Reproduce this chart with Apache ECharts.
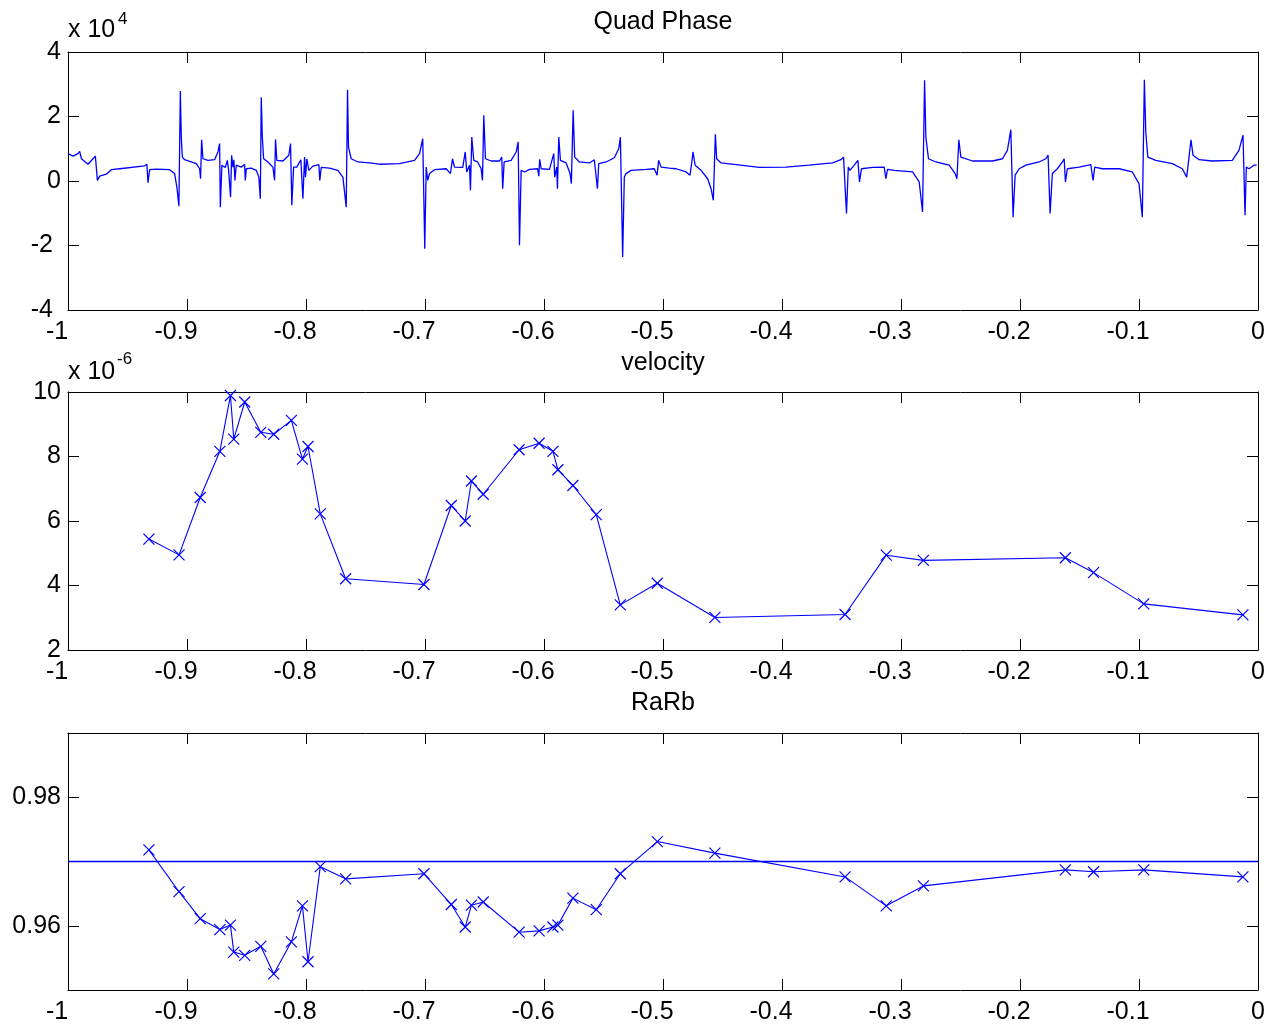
<!DOCTYPE html>
<html>
<head>
<meta charset="utf-8">
<script src="https://cdn.jsdelivr.net/npm/echarts@6/dist/echarts.min.js"></script>
<style>
html,body{margin:0;padding:0;background:#fff;}
#chart{width:1270px;height:1025px;}
</style>
</head>
<body>
<div id="chart"></div>
<script>
// ---------- DATA ----------
// Quad Phase (values in units of 1e4)
const qpX = [-1.0000,-0.9958,-0.9916,-0.9902,-0.9887,-0.9832,-0.9790,-0.9770,-0.9753,-0.9734,-0.9678,-0.9636,-0.9566,-0.9356,-0.9337,-0.9328,-0.9314,-0.9258,-0.9146,-0.9104,-0.9085,-0.9068,-0.9056,-0.9048,-0.9039,-0.9020,-0.8978,-0.8922,-0.8894,-0.8886,-0.8877,-0.8866,-0.8824,-0.8768,-0.8740,-0.8726,-0.8720,-0.8707,-0.8678,-0.8661,-0.8650,-0.8634,-0.8625,-0.8614,-0.8606,-0.8597,-0.8586,-0.8544,-0.8516,-0.8510,-0.8502,-0.8460,-0.8418,-0.8396,-0.8384,-0.8376,-0.8367,-0.8356,-0.8320,-0.8278,-0.8264,-0.8256,-0.8245,-0.8194,-0.8144,-0.8130,-0.8119,-0.8104,-0.8077,-0.8043,-0.8026,-0.8012,-0.8004,-0.7993,-0.7976,-0.7942,-0.7892,-0.7884,-0.7872,-0.7802,-0.7732,-0.7690,-0.7662,-0.7651,-0.7643,-0.7620,-0.7564,-0.7466,-0.7382,-0.7214,-0.7088,-0.7046,-0.7019,-0.7002,-0.6990,-0.6977,-0.6962,-0.6920,-0.6822,-0.6786,-0.6769,-0.6752,-0.6683,-0.6662,-0.6649,-0.6626,-0.6618,-0.6607,-0.6590,-0.6557,-0.6528,-0.6517,-0.6506,-0.6492,-0.6444,-0.6374,-0.6355,-0.6347,-0.6335,-0.6276,-0.6234,-0.6217,-0.6206,-0.6192,-0.6164,-0.6122,-0.6053,-0.6044,-0.6036,-0.6024,-0.5954,-0.5918,-0.5910,-0.5893,-0.5887,-0.5876,-0.5862,-0.5814,-0.5781,-0.5770,-0.5755,-0.5742,-0.5702,-0.5619,-0.5577,-0.5562,-0.5551,-0.5540,-0.5478,-0.5409,-0.5372,-0.5358,-0.5339,-0.5325,-0.5311,-0.5268,-0.5142,-0.5073,-0.5050,-0.5036,-0.5016,-0.4947,-0.4890,-0.4806,-0.4773,-0.4756,-0.4748,-0.4730,-0.4680,-0.4625,-0.4596,-0.4577,-0.4560,-0.4549,-0.4512,-0.4386,-0.4191,-0.3967,-0.3771,-0.3575,-0.3505,-0.3483,-0.3458,-0.3443,-0.3429,-0.3393,-0.3362,-0.3349,-0.3332,-0.3239,-0.3141,-0.3127,-0.3113,-0.3057,-0.2903,-0.2847,-0.2819,-0.2802,-0.2791,-0.2769,-0.2707,-0.2595,-0.2545,-0.2530,-0.2514,-0.2497,-0.2484,-0.2399,-0.2231,-0.2147,-0.2106,-0.2077,-0.2058,-0.2041,-0.2007,-0.1951,-0.1839,-0.1783,-0.1764,-0.1747,-0.1728,-0.1686,-0.1644,-0.1629,-0.1618,-0.1602,-0.1503,-0.1405,-0.1386,-0.1372,-0.1308,-0.1167,-0.1056,-0.1000,-0.0972,-0.0955,-0.0943,-0.0926,-0.0859,-0.0720,-0.0636,-0.0599,-0.0585,-0.0563,-0.0546,-0.0495,-0.0384,-0.0216,-0.0160,-0.0126,-0.0109,-0.0098,-0.0076,-0.0034,-0.0011];
const qpY = [0.85,0.77,0.85,0.92,0.69,0.52,0.69,0.77,0.02,0.15,0.21,0.35,0.38,0.47,0.52,-0.05,0.35,0.37,0.35,0.23,-0.19,-0.78,2.79,1.36,0.74,0.66,0.61,0.54,0.38,0.07,1.28,0.69,0.64,0.66,0.90,1.16,-0.81,0.49,0.42,0.64,0.33,-0.50,0.80,0.43,0.66,0.02,0.49,0.43,0.51,0.02,0.38,0.40,0.33,0.12,-0.55,2.60,1.36,0.69,0.59,0.43,0.02,1.29,0.64,0.62,0.80,1.16,-0.75,0.43,0.43,0.66,-0.55,0.74,0.12,0.69,0.33,0.46,0.51,0.02,0.42,0.40,0.33,0.12,-0.81,2.83,1.05,0.69,0.59,0.56,0.52,0.54,0.64,0.85,1.31,-2.10,0.43,0.02,0.23,0.35,0.38,0.23,0.69,0.43,0.42,0.90,0.28,0.49,-0.29,1.36,0.64,0.59,0.38,0.02,2.04,0.69,0.62,0.62,0.74,-0.24,0.59,0.64,0.90,1.21,-1.99,0.33,0.28,0.36,0.38,0.15,0.67,0.38,0.36,0.85,0.12,0.43,-0.24,1.36,0.64,0.56,0.23,-0.08,2.19,0.74,0.59,0.56,0.66,0.72,-0.24,0.54,0.59,0.72,1.00,1.36,-2.36,0.12,0.23,0.33,0.36,0.38,0.18,0.64,0.43,0.40,0.38,0.28,0.18,0.64,0.90,0.49,0.33,0.07,-0.24,-0.60,1.45,0.69,0.56,0.51,0.42,0.43,0.49,0.56,0.66,0.74,-1.01,0.43,0.33,0.49,0.64,-0.03,0.38,0.42,0.43,0.07,0.36,0.33,0.28,-0.03,-0.96,3.12,1.36,0.69,0.59,0.49,0.23,0.07,1.28,0.74,0.72,0.62,0.62,0.69,0.95,1.59,-1.12,0.18,0.38,0.49,0.59,0.69,0.80,-1.01,0.23,0.38,0.59,0.69,-0.03,0.38,0.43,0.51,0.02,0.43,0.38,0.38,0.28,-0.08,-1.12,3.14,1.52,0.74,0.64,0.54,0.38,0.12,0.07,1.28,0.80,0.66,0.62,0.64,0.95,1.42,-1.06,0.43,0.38,0.49,0.49];

// Sample positions shared by velocity and RaRb
const sampleX = [-0.9320,-0.9067,-0.8889,-0.8724,-0.8635,-0.8607,-0.8515,-0.8380,-0.8271,-0.8123,-0.8030,-0.7983,-0.7880,-0.7667,-0.7009,-0.6779,-0.6662,-0.6610,-0.6511,-0.6209,-0.6041,-0.5925,-0.5883,-0.5757,-0.5561,-0.5359,-0.5048,-0.4564,-0.3470,-0.3124,-0.2812,-0.1619,-0.1382,-0.0960,-0.0127];
// velocity (units of 1e-6)
const velocity = [5.44,4.95,6.73,8.16,9.89,8.54,9.69,8.75,8.69,9.12,7.92,8.31,6.22,4.21,4.03,6.48,6.00,7.24,6.83,8.21,8.41,8.16,7.59,7.10,6.20,3.40,4.07,3.01,3.10,4.94,4.78,4.86,4.40,3.43,3.09];
const rarb = [0.9718,0.9653,0.9611,0.9594,0.9601,0.9559,0.9554,0.9568,0.9525,0.9575,0.9631,0.9544,0.9692,0.9673,0.9681,0.9633,0.9598,0.9632,0.9637,0.9590,0.9592,0.9598,0.9601,0.9643,0.9625,0.9681,0.9731,0.9713,0.9676,0.9631,0.9662,0.9687,0.9684,0.9687,0.9676];
// reference line in RaRb panel
const refX = [-1, 0];
const refY = [0.97, 0.97];

const titles = ['Quad Phase', 'velocity', 'RaRb'];
const rarbTickLabels = ['0.96', '0.98'];

// ---------- CHART ----------
const FONT = 'Liberation Sans, Arial, sans-serif';
const FS = 25;
const BLUE = '#0000ff';
const chart = echarts.init(document.getElementById('chart'), null, {renderer: 'canvas'});

const gridTops = [52, 392, 733];
const gridH = 258;
const grids = gridTops.map(t => ({left: 68, right: 12, top: t, height: gridH, show: false}));

function xLab(v) {
  const s = String(+(+v).toFixed(1));
  return v < -1e-9 ? '{n|' + s + '}' : s;
}
function yLabInt(v) {
  const s = String(+(+v).toFixed(4));
  return v < -1e-9 ? '{n|' + s + '}' : s;
}
function yLabRarb(v) {
  const s = (+v).toFixed(2);
  return rarbTickLabels.indexOf(s) >= 0 ? s : '';
}
const mkLine = () => ({show: true, onZero: false, lineStyle: {color: '#000', width: 1}});
const mkTick = () => ({show: true, inside: true, length: 11, lineStyle: {color: '#000', width: 1}});

const xAxes = [], yAxes = [];
[0, 1, 2].forEach(i => {
  xAxes.push({
    type: 'value', gridIndex: i, min: -1, max: 0, interval: 0.1, position: 'bottom',
    axisLine: mkLine(), axisTick: mkTick(), splitLine: {show: false},
    axisLabel: {
      show: true, margin: 10, color: '#000', fontFamily: FONT, fontSize: FS,
      formatter: xLab,
      rich: {n: {padding: [0, 22, 0, 0], color: '#000', fontFamily: FONT, fontSize: FS}}
    }
  });
  xAxes.push({
    type: 'value', gridIndex: i, min: -1, max: 0, interval: 0.1, position: 'top',
    axisLine: mkLine(), axisTick: mkTick(), splitLine: {show: false},
    axisLabel: {show: false}
  });
});

const yCfg = [
  {min: -4, max: 4, interval: 2, fmt: yLabInt},
  {min: 2, max: 10, interval: 2, fmt: yLabInt},
  {min: 0.95, max: 0.99, interval: 0.01, fmt: yLabRarb}
];
yCfg.forEach((c, i) => {
  yAxes.push({
    type: 'value', gridIndex: i, min: c.min, max: c.max, interval: c.interval, position: 'left',
    axisLine: mkLine(), axisTick: mkTick(), splitLine: {show: false},
    axisLabel: {
      show: true, margin: 7, color: '#000', fontFamily: FONT, fontSize: FS,
      formatter: c.fmt,
      rich: {n: {padding: [0, 8, 0, 0], color: '#000', fontFamily: FONT, fontSize: FS}}
    }
  });
  yAxes.push({
    type: 'value', gridIndex: i, min: c.min, max: c.max, interval: c.interval, position: 'right',
    axisLine: mkLine(), axisTick: mkTick(), splitLine: {show: false},
    axisLabel: {show: false}
  });
});

const zip = (a, b) => a.map((v, k) => [v, b[k]]);
const crossPath = 'path://M0,0L10,10M10,0L0,10';

const series = [
  {
    type: 'line', xAxisIndex: 0, yAxisIndex: 0, data: zip(qpX, qpY), color: BLUE,
    showSymbol: false, symbol: 'none', lineStyle: {color: BLUE, width: 1.3},
    animation: false, silent: true
  },
  {
    type: 'line', xAxisIndex: 2, yAxisIndex: 2, data: zip(sampleX, velocity), color: BLUE,
    symbol: crossPath, symbolSize: 11, showSymbol: true,
    itemStyle: {color: BLUE, borderColor: BLUE, borderWidth: 1.2},
    lineStyle: {color: BLUE, width: 1.1}, animation: false, silent: true
  },
  {
    type: 'line', xAxisIndex: 4, yAxisIndex: 4, data: zip(sampleX, rarb), color: BLUE,
    symbol: crossPath, symbolSize: 11, showSymbol: true, z: 4,
    itemStyle: {color: BLUE, borderColor: BLUE, borderWidth: 1.2},
    lineStyle: {color: BLUE, width: 1.1}, animation: false, silent: true
  },
  {
    type: 'line', xAxisIndex: 4, yAxisIndex: 4, data: zip(refX, refY), color: BLUE,
    symbol: 'none', showSymbol: false, z: 100, clip: false,
    lineStyle: {color: BLUE, width: 1.3}, animation: false, silent: true
  }
];

const titleY = [22, 363, 703];
const graphics = titles.map((t, i) => ({
  type: 'text', x: 663, y: titleY[i],
  style: {text: t, fill: '#000', font: FS + 'px ' + FONT, textAlign: 'center', textVerticalAlign: 'middle'}
}));
// exponent annotations
graphics.push(
  {type: 'text', x: 68, y: 30, style: {text: 'x 10', fill: '#000', font: FS + 'px ' + FONT, textAlign: 'left', textVerticalAlign: 'middle'}},
  {type: 'text', x: 118, y: 19, style: {text: '4', fill: '#000', font: '17px ' + FONT, textAlign: 'left', textVerticalAlign: 'middle'}},
  {type: 'text', x: 68, y: 372, style: {text: 'x 10', fill: '#000', font: FS + 'px ' + FONT, textAlign: 'left', textVerticalAlign: 'middle'}},
  {type: 'text', x: 117, y: 359, style: {text: '-6', fill: '#000', font: '17px ' + FONT, textAlign: 'left', textVerticalAlign: 'middle'}}
);

chart.setOption({
  backgroundColor: '#fff',
  animation: false,
  color: [BLUE],
  grid: grids,
  xAxis: xAxes,
  yAxis: yAxes,
  series: series,
  graphic: graphics
});
</script>
</body>
</html>
